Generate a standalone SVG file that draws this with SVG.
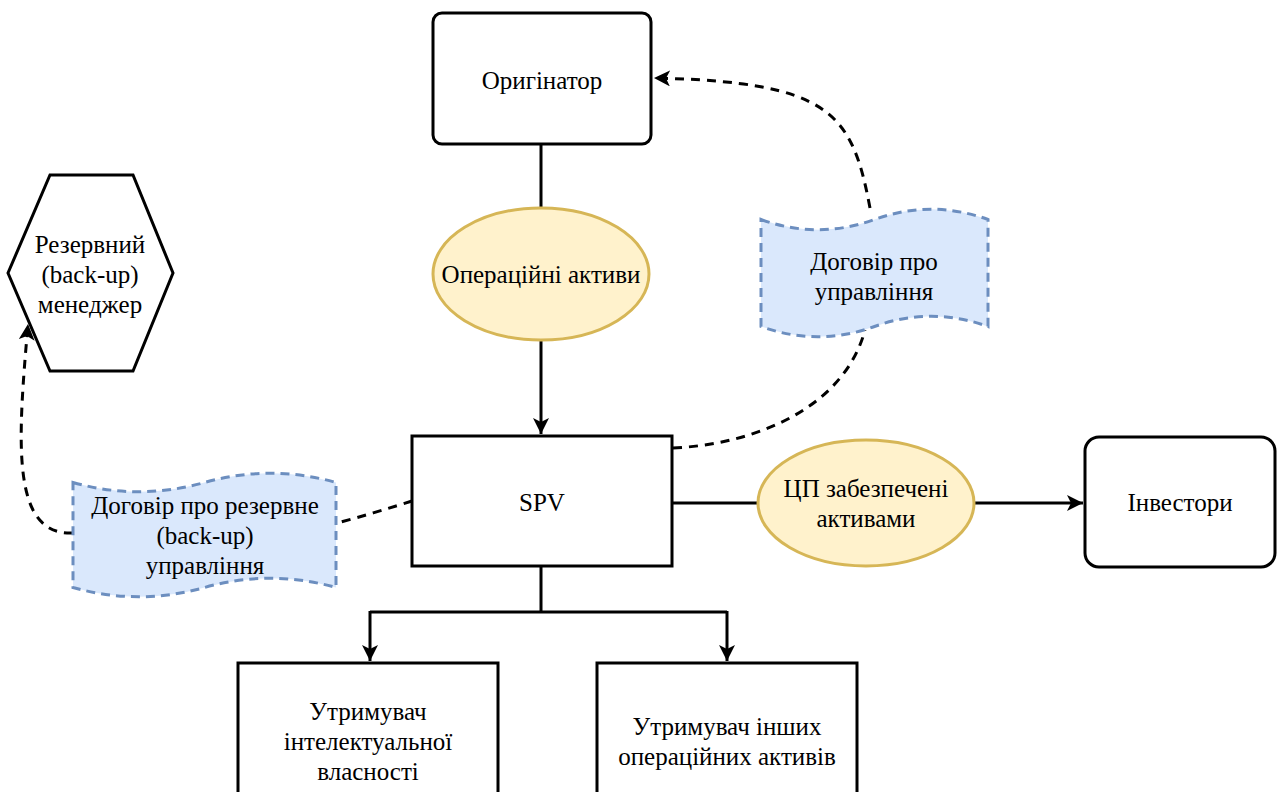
<svg xmlns="http://www.w3.org/2000/svg" width="1283" height="792" viewBox="0 0 1283 792">
<style>
.box{fill:#fff;stroke:#000;stroke-width:3}
.ell{fill:#fff2cc;stroke:#d6b656;stroke-width:3}
.doc{fill:#dae8fc;stroke:#6c8ebf;stroke-width:3;stroke-dasharray:9 6}
.ln{fill:none;stroke:#000;stroke-width:3}
.dash{fill:none;stroke:#000;stroke-width:3;stroke-dasharray:9 7}
text{font-family:'Liberation Serif',serif;font-size:25px;text-anchor:middle;fill:#000}
</style>
<defs>
<marker id="arr" markerUnits="userSpaceOnUse" markerWidth="18" markerHeight="16" refX="16" refY="8" orient="auto">
<path d="M0,0 L16,8 L0,16 L4,8 Z" fill="#000"/>
</marker>
</defs>
<rect width="1283" height="792" fill="#fff"/>
<g id="connectors">
<line class="ln" x1="541" y1="144" x2="541" y2="208"/>
<line class="ln" x1="541" y1="340" x2="541" y2="434" marker-end="url(#arr)"/>
<line class="ln" x1="672" y1="503" x2="758" y2="503"/>
<line class="ln" x1="975" y1="503" x2="1083" y2="503" marker-end="url(#arr)"/>
<path class="ln" d="M541,566 V612 M370,612 H727"/>
<line class="ln" x1="370" y1="611" x2="370" y2="661" marker-end="url(#arr)"/>
<line class="ln" x1="727" y1="611" x2="727" y2="661" marker-end="url(#arr)"/>
<path class="dash" d="M673,448 C760,444 845,405 865,330"/>
<path class="dash" d="M870,208 C852,112 830,82 654,78" marker-end="url(#arr)"/>
<path class="dash" d="M412,501 C390,508 360,517 337,523"/>
<path class="dash" d="M73,533 C10,536 18,440 28,324" marker-end="url(#arr)"/>
</g>
<g id="originator">
<rect class="box" x="433" y="13" width="218" height="131" rx="9"/>
<text x="542" y="89">Оригінатор</text>
</g>
<g id="op-assets">
<ellipse class="ell" cx="541" cy="274" rx="108" ry="66"/>
<text x="541" y="283">Операційні активи</text>
</g>
<g id="spv">
<rect class="box" x="412" y="436" width="260" height="130"/>
<text x="542" y="511">SPV</text>
</g>
<g id="abs">
<ellipse class="ell" cx="866" cy="503" rx="108" ry="63"/>
<text x="866" y="497">ЦП забезпечені</text>
<text x="866" y="527">активами</text>
</g>
<g id="investors">
<rect class="box" x="1085" y="437" width="190" height="130" rx="14"/>
<text x="1180" y="511">Інвестори</text>
</g>
<g id="backup-manager">
<polygon class="box" points="50,175 133,175 173,273 133,371 50,371 8,273"/>
<text x="90" y="253">Резервний</text>
<text x="90" y="283">(back-up)</text>
<text x="90" y="313">менеджер</text>
</g>
<g id="mgmt-contract">
<path class="doc" d="M761,219.5 Q817.75,240 874.5,219.5 Q931.25,199 988,219.5 L988,326.5 Q931.25,306 874.5,326.5 Q817.75,347 761,326.5 Z"/>
<text x="874" y="270">Договір про</text>
<text x="874" y="300">управління</text>
</g>
<g id="backup-contract">
<path class="doc" d="M73,482.5 Q138.75,501 204.5,482.5 Q270.25,464 336,482.5 L336,587.5 Q270.25,569 204.5,587.5 Q138.75,606 73,587.5 Z"/>
<text x="205" y="514">Договір про резервне</text>
<text x="205" y="544">(back-up)</text>
<text x="205" y="574">управління</text>
</g>
<g id="ip-holder">
<rect class="box" x="238" y="663" width="260" height="150"/>
<text x="368" y="720">Утримувач</text>
<text x="368" y="750">інтелектуальної</text>
<text x="368" y="780">власності</text>
</g>
<g id="other-holder">
<rect class="box" x="597" y="663" width="260" height="150"/>
<text x="727" y="735">Утримувач інших</text>
<text x="727" y="765">операційних активів</text>
</g>
</svg>
